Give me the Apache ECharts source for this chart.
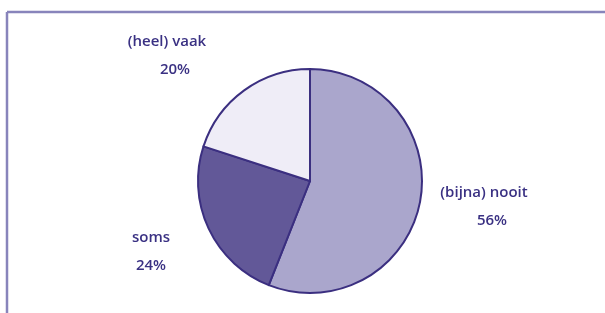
<!DOCTYPE html>
<html>
<head>
<meta charset="utf-8">
<script src="https://cdn.jsdelivr.net/npm/echarts@6/dist/echarts.min.js"></script>
<style>
  html, body { margin: 0; padding: 0; background: #fff; }
  #chart { width: 605px; height: 313px; }
</style>
</head>
<body>
<div id="chart"></div>
<script>
// data
var categories = ['(bijna) nooit', 'soms', '(heel) vaak'];
var values = [56, 24, 20];
var sliceColors = ['#aaa6cc', '#625898', '#efedf7'];

// label spots (centre of the two-line label) and nudge of the % line
var labelSpots = [[484, 207], [151, 252], [167, 56]];
var pctShift = [16, 0, 16];

var myChart = echarts.init(document.getElementById('chart'));

var pieData = categories.map(function (name, i) {
    return {
        name: name,
        value: values[i],
        itemStyle: { color: sliceColors[i] },
        label: {
            rich: {
                p: { padding: [0, 0, 0, pctShift[i]] }
            }
        }
    };
});

var txt = { fontSize: 15, lineHeight: 28, color: '#3a3183', fontFamily: 'Open Sans', fontWeight: 600 };

var option = {
    animation: false,
    backgroundColor: '#fff',
    graphic: [
        // frame (top + left edge)
        { type: 'line', shape: { x1: 7, y1: 12, x2: 605, y2: 12 }, style: { stroke: '#8884bb', lineWidth: 2.5 } },
        { type: 'line', shape: { x1: 7, y1: 12, x2: 7, y2: 313 }, style: { stroke: '#8884bb', lineWidth: 2.5 } }
    ],
    series: [{
        type: 'pie',
        center: [310, 181],
        radius: 112,
        startAngle: 90,
        clockwise: true,
        silent: true,
        itemStyle: { borderColor: '#3b2f80', borderWidth: 2 },
        labelLine: { show: false },
        label: {
            show: true,
            position: 'outside',
            formatter: '{n|{b}}\n{p|{d}%}',
            color: txt.color,
            fontFamily: txt.fontFamily,
            fontSize: txt.fontSize,
            align: 'center',
            rich: {
                n: txt,
                p: txt
            }
        },
        labelLayout: function (params) {
            var s = labelSpots[params.dataIndex];
            return { x: s[0], y: s[1], align: 'center', verticalAlign: 'middle' };
        },
        data: pieData
    }]
};

myChart.setOption(option);
</script>
</body>
</html>
